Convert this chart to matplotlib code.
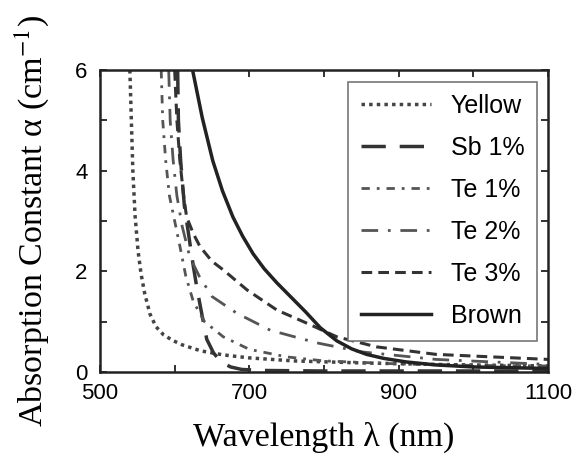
import matplotlib
matplotlib.use("Agg")
import matplotlib.pyplot as plt
from matplotlib.ticker import FixedLocator, MultipleLocator

# wavelength (nm) / absorption constant (cm^-1)
yellow_x = [540, 542, 544, 547, 551, 555, 560, 567, 575, 585, 597, 610, 635, 665, 700, 760, 850, 950, 1100]
yellow_y = [6.0, 5.0, 4.0, 3.1, 2.4, 1.95, 1.55, 1.15, 0.9, 0.74, 0.63, 0.54, 0.42, 0.34, 0.28, 0.22, 0.18, 0.15, 0.12]

sb1_x = [604, 605, 608, 613, 620, 625, 630, 637, 643, 652, 662, 675, 690, 720, 800, 900, 1100]
sb1_y = [6.0, 5.0, 4.2, 3.3, 2.6, 2.1, 1.65, 1.1, 0.65, 0.38, 0.2, 0.1, 0.05, 0.03, 0.02, 0.02, 0.02]

te1_x = [582, 584, 588, 593, 600, 607, 615, 625, 640, 665, 700, 750, 800, 900, 1000, 1100]
te1_y = [6.0, 5.0, 4.2, 3.5, 3.0, 2.5, 1.9, 1.4, 1.0, 0.7, 0.45, 0.3, 0.22, 0.16, 0.13, 0.12]

te2_x = [592, 594, 598, 603, 610, 620, 633, 650, 683, 728, 790, 850, 950, 1100]
te2_y = [6.0, 5.0, 4.2, 3.5, 2.9, 2.3, 1.9, 1.5, 1.17, 0.83, 0.58, 0.4, 0.25, 0.15]

te3_x = [600, 603, 607, 612, 616, 625, 634, 650, 665, 697, 737, 777, 817, 870, 950, 1100]
te3_y = [6.0, 5.0, 4.2, 3.5, 3.08, 2.75, 2.49, 2.2, 2.03, 1.63, 1.23, 0.97, 0.7, 0.5, 0.35, 0.25]

brown_x = [624, 637, 651, 664, 678, 691, 705, 720, 737, 755, 775, 795, 817, 837, 857, 880, 910, 950, 1000, 1100]
brown_y = [6.0, 5.05, 4.2, 3.6, 3.08, 2.7, 2.35, 2.05, 1.77, 1.5, 1.2, 0.88, 0.62, 0.46, 0.35, 0.27, 0.2, 0.14, 0.1, 0.07]

labels = ["Yellow", "Sb 1%", "Te 1%", "Te 2%", "Te 3%", "Brown"]
xticks = [500, 700, 900, 1100]
xminor = [600, 800, 1000]

plt.rcParams["mathtext.fontset"] = "stix"

col = "#333333"
fig = plt.figure(figsize=(5.79, 4.58), dpi=100)
ax = fig.add_axes([0.1727, 0.1878, 0.7738, 0.6592])

ax.plot(yellow_x, yellow_y, color="#444444", lw=2.5, ls=(0, (1, 1.2)), label=labels[0])
ax.plot(sb1_x, sb1_y, color=col, lw=2.5, ls=(0, (7, 4)), label=labels[1])
ax.plot(te1_x, te1_y, color="#555555", lw=2, ls=(0, (3, 2.5, 1, 2.5)), label=labels[2])
ax.plot(te2_x, te2_y, color="#555555", lw=2, ls=(0, (6, 3.5, 1, 3.5)), label=labels[3])
ax.plot(te3_x, te3_y, color=col, lw=2.2, ls=(0, (3.5, 2)), label=labels[4])
ax.plot(brown_x, brown_y, color="#222222", lw=2.5, ls="-", label=labels[5])

ax.set_xlim(500, 1100)
ax.set_ylim(0, 6)
ax.xaxis.set_major_locator(FixedLocator(xticks))
ax.xaxis.set_minor_locator(FixedLocator(xminor))
ax.yaxis.set_major_locator(MultipleLocator(2))
ax.yaxis.set_minor_locator(MultipleLocator(1))
ax.tick_params(which="both", direction="in", top=True, right=True,
               length=5, width=1.3, color="#222222")
ax.tick_params(axis="x", labelsize=16, pad=8)
ax.tick_params(axis="y", labelsize=16, pad=9)
for lab in ax.get_xticklabels() + ax.get_yticklabels():
    lab.set_family("Liberation Sans")
for s in ax.spines.values():
    s.set_linewidth(1.8)
    s.set_color("#222222")

ax.set_xlabel("Wavelength λ (nm)", family="Liberation Serif", fontsize=24.5)
ax.xaxis.set_label_coords(0.5, -0.165)
ax.set_ylabel("Absorption Constant α (cm$^{-1}$)", family="Liberation Serif", fontsize=24.5)
ax.yaxis.set_label_coords(-0.108, 0.5)

leg = ax.legend(loc="upper left", bbox_to_anchor=(0.554, 0.962), borderaxespad=0,
                fancybox=False, framealpha=1, handlelength=2.8, handletextpad=0.8,
                labelspacing=0.72, borderpad=0.5,
                prop={"family": "Liberation Sans", "size": 18})
leg.get_frame().set_edgecolor("#777777")
leg.get_frame().set_linewidth(1.2)

fig.savefig("out.png", dpi=100)
